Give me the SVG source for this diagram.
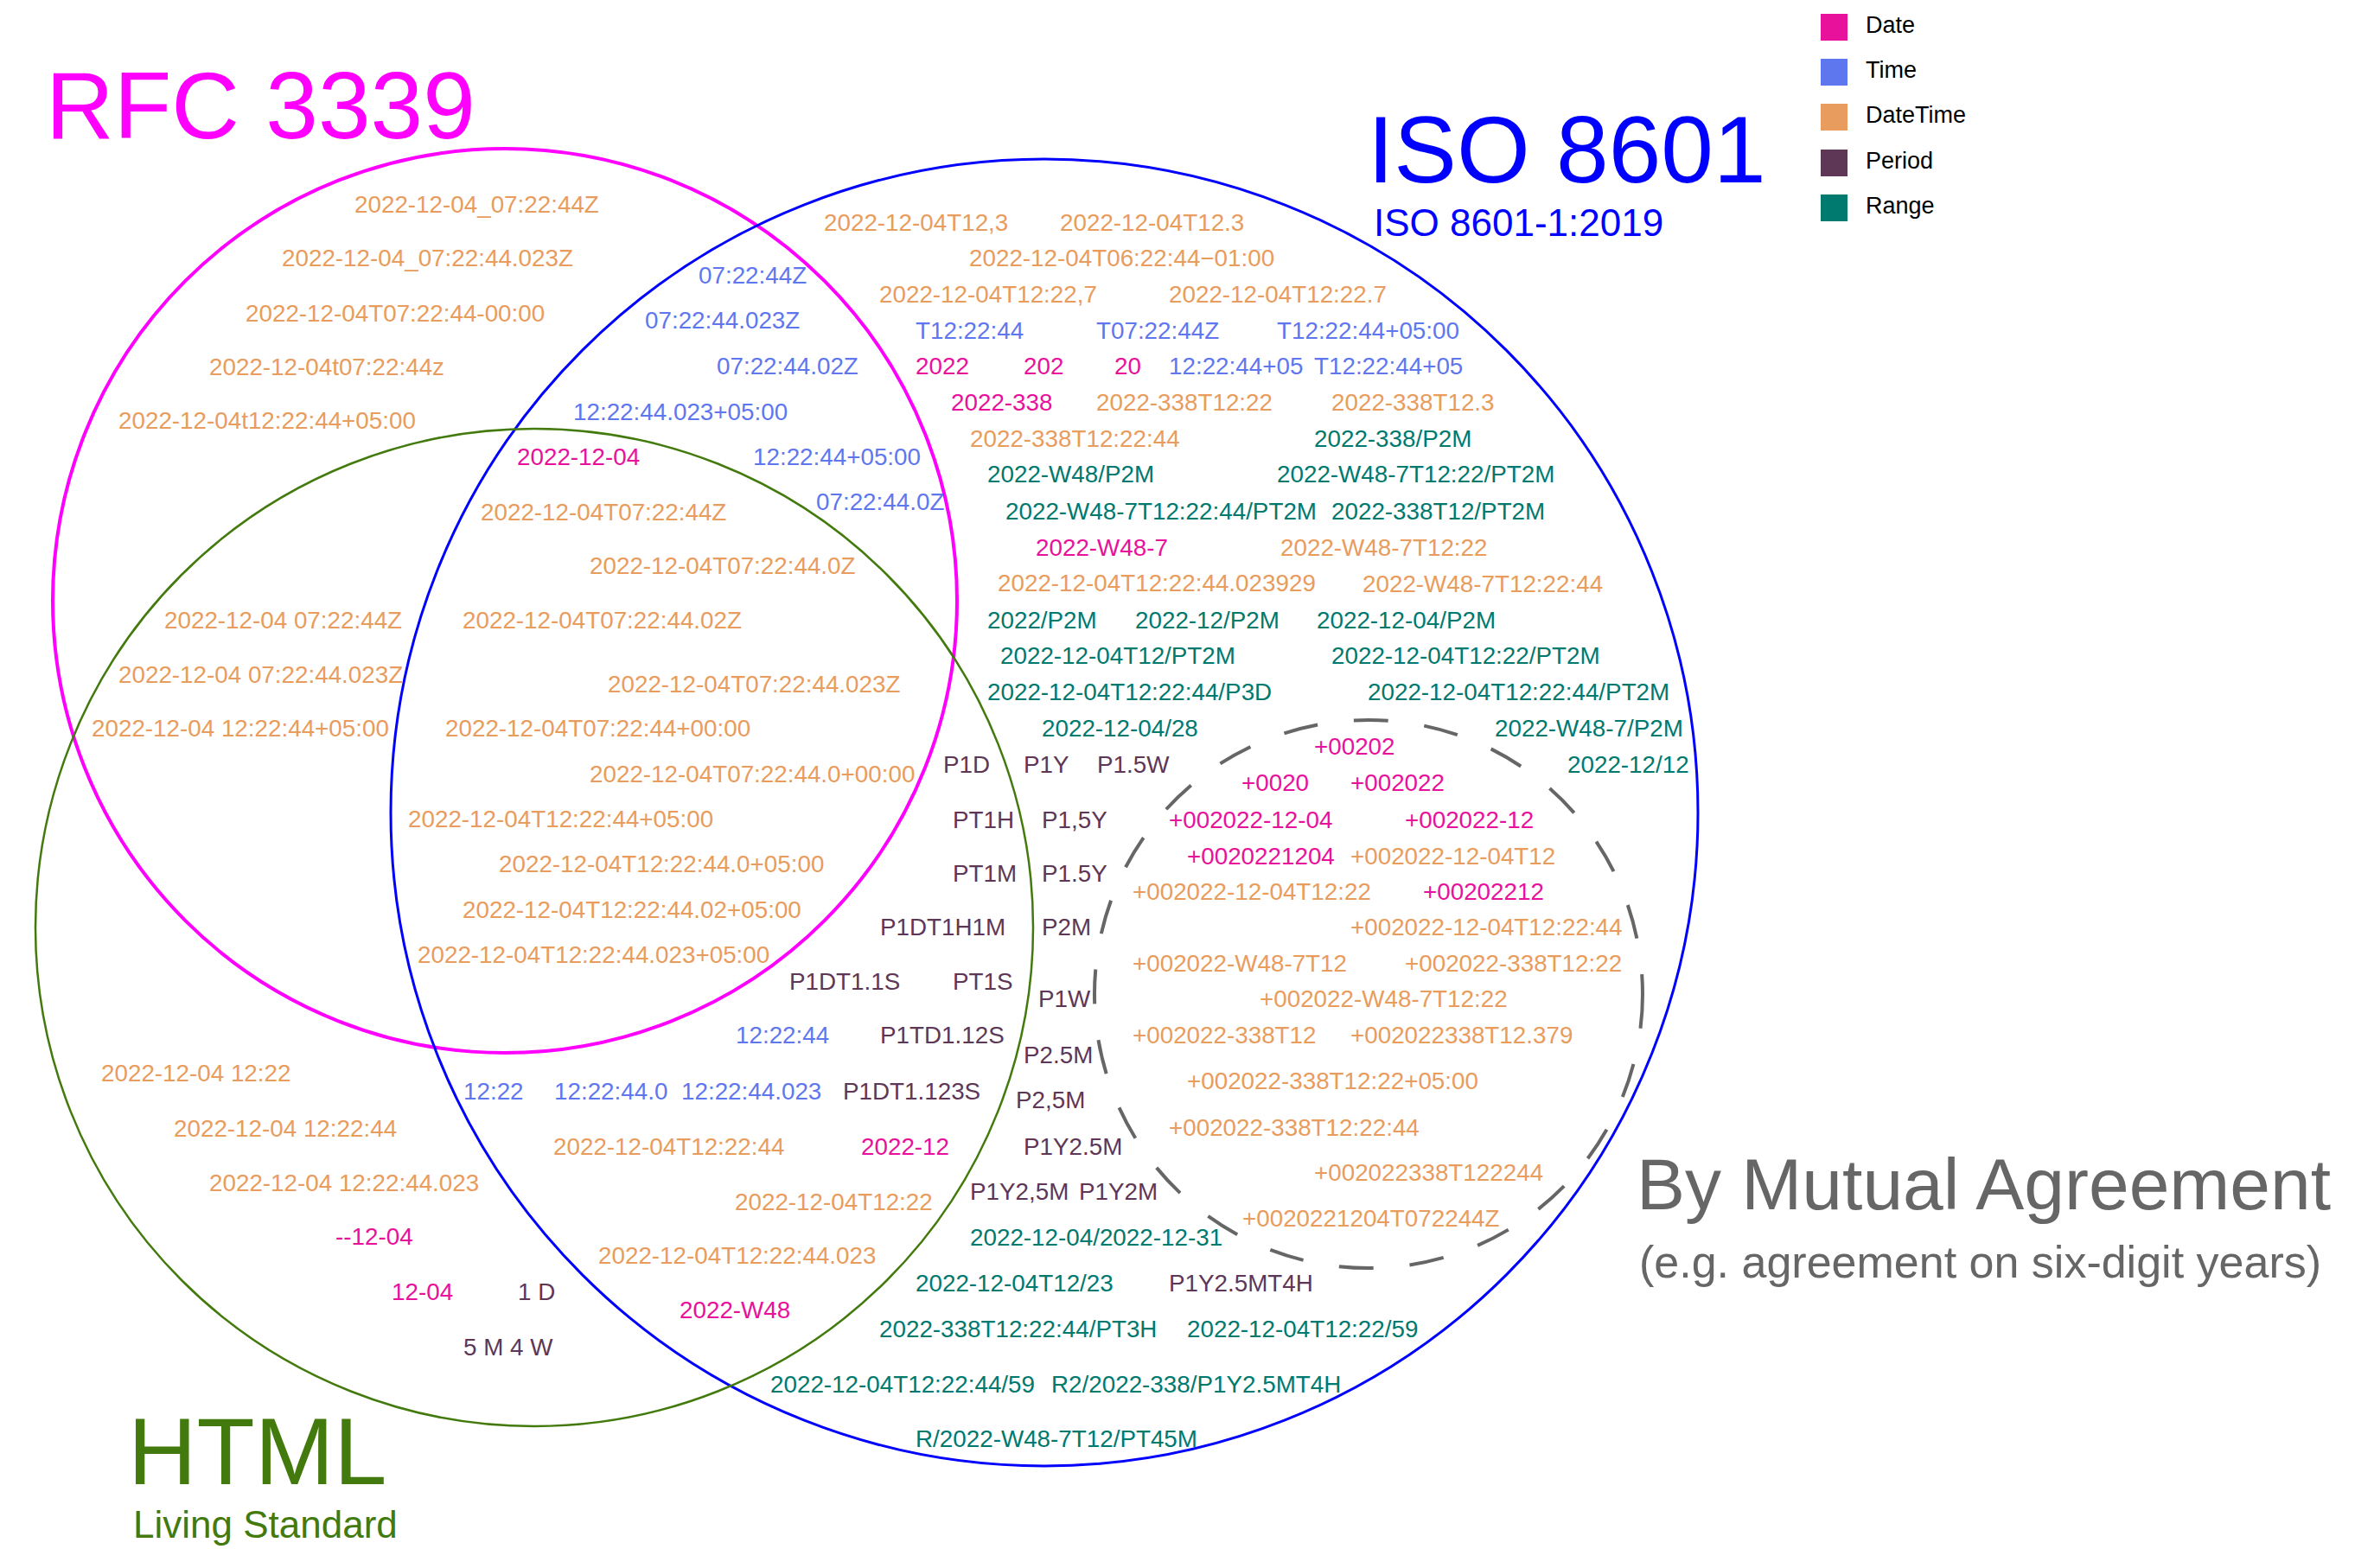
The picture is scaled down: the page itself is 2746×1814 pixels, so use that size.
<svg xmlns="http://www.w3.org/2000/svg" width="2746" height="1814" viewBox="0 0 2746 1814" font-family="'Liberation Sans', Arial, sans-serif">
<style>
text{font-family:'Liberation Sans',Arial,sans-serif}
.lb{font-size:27.8px}
.d{fill:#e7119c}.t{fill:#5f77ee}.dt{fill:#e89c5d}.p{fill:#5e3756}.r{fill:#00796f}
.set{fill:none}
.lg{font-size:27px;fill:#000}
</style>
<rect width="2746" height="1814" fill="#fff"/>
<g id="rfc3339">
<circle class="set" cx="584" cy="695" r="523" stroke="#ff00ff" stroke-width="4"/>
<text x="53" y="160" font-size="109" fill="#ff00ff">RFC 3339</text>
</g>
<g id="iso8601">
<circle class="set" cx="1208" cy="940" r="756" stroke="#0000ff" stroke-width="3"/>
<text x="1582" y="211" font-size="109" fill="#0000ff">ISO 8601</text>
<text x="1589" y="273" font-size="44" fill="#0000ff">ISO 8601-1:2019</text>
</g>
<g id="html">
<circle class="set" cx="618" cy="1073" r="577" stroke="#437a0d" stroke-width="2.5"/>
<text x="148" y="1717" font-size="110" fill="#437a0d">HTML</text>
<text x="154" y="1779" font-size="44" fill="#437a0d">Living Standard</text>
</g>
<g id="mutual-agreement">
<circle class="set" cx="1583" cy="1150" r="317" stroke="#666" stroke-width="4" stroke-dasharray="40 42"/>
<text x="1893" y="1399" font-size="84" fill="#666">By Mutual Agreement</text>
<text x="1896" y="1478" font-size="52" fill="#666">(e.g. agreement on six-digit years)</text>
</g>
<g id="legend">
<rect x="2106" y="16" width="31" height="31" fill="#e7119c"/><text class="lg" x="2158" y="38">Date</text>
<rect x="2106" y="68" width="31" height="31" fill="#5f77ee"/><text class="lg" x="2158" y="90">Time</text>
<rect x="2106" y="120" width="31" height="31" fill="#e89c5d"/><text class="lg" x="2158" y="142">DateTime</text>
<rect x="2106" y="173" width="31" height="31" fill="#5e3756"/><text class="lg" x="2158" y="195">Period</text>
<rect x="2106" y="225" width="31" height="31" fill="#00796f"/><text class="lg" x="2158" y="247">Range</text>
</g>
<g id="labels-datetime">
<text class="lb dt" x="410" y="246">2022-12-04_07:22:44Z</text>
<text class="lb dt" x="326" y="308">2022-12-04_07:22:44.023Z</text>
<text class="lb dt" x="284" y="372">2022-12-04T07:22:44-00:00</text>
<text class="lb dt" x="242" y="434">2022-12-04t07:22:44z</text>
<text class="lb dt" x="137" y="496">2022-12-04t12:22:44+05:00</text>
<text class="lb dt" x="953" y="267">2022-12-04T12,3</text>
<text class="lb dt" x="1226" y="267">2022-12-04T12.3</text>
<text class="lb dt" x="1121" y="308">2022-12-04T06:22:44−01:00</text>
<text class="lb dt" x="1017" y="350">2022-12-04T12:22,7</text>
<text class="lb dt" x="1352" y="350">2022-12-04T12:22.7</text>
<text class="lb dt" x="1268" y="475">2022-338T12:22</text>
<text class="lb dt" x="1540" y="475">2022-338T12.3</text>
<text class="lb dt" x="1122" y="517">2022-338T12:22:44</text>
<text class="lb dt" x="556" y="602">2022-12-04T07:22:44Z</text>
<text class="lb dt" x="1481" y="643">2022-W48-7T12:22</text>
<text class="lb dt" x="682" y="664">2022-12-04T07:22:44.0Z</text>
<text class="lb dt" x="1154" y="684">2022-12-04T12:22:44.023929</text>
<text class="lb dt" x="1576" y="685">2022-W48-7T12:22:44</text>
<text class="lb dt" x="190" y="727">2022-12-04 07:22:44Z</text>
<text class="lb dt" x="535" y="727">2022-12-04T07:22:44.02Z</text>
<text class="lb dt" x="137" y="790">2022-12-04 07:22:44.023Z</text>
<text class="lb dt" x="703" y="801">2022-12-04T07:22:44.023Z</text>
<text class="lb dt" x="106" y="852">2022-12-04 12:22:44+05:00</text>
<text class="lb dt" x="515" y="852">2022-12-04T07:22:44+00:00</text>
<text class="lb dt" x="682" y="905">2022-12-04T07:22:44.0+00:00</text>
<text class="lb dt" x="472" y="957">2022-12-04T12:22:44+05:00</text>
<text class="lb dt" x="577" y="1009">2022-12-04T12:22:44.0+05:00</text>
<text class="lb dt" x="535" y="1062">2022-12-04T12:22:44.02+05:00</text>
<text class="lb dt" x="483" y="1114">2022-12-04T12:22:44.023+05:00</text>
<text class="lb dt" x="1562" y="1000">+002022-12-04T12</text>
<text class="lb dt" x="1310" y="1041">+002022-12-04T12:22</text>
<text class="lb dt" x="1562" y="1082">+002022-12-04T12:22:44</text>
<text class="lb dt" x="1310" y="1124">+002022-W48-7T12</text>
<text class="lb dt" x="1625" y="1124">+002022-338T12:22</text>
<text class="lb dt" x="1457" y="1165">+002022-W48-7T12:22</text>
<text class="lb dt" x="1310" y="1207">+002022-338T12</text>
<text class="lb dt" x="1562" y="1207">+002022338T12.379</text>
<text class="lb dt" x="1373" y="1260">+002022-338T12:22+05:00</text>
<text class="lb dt" x="1352" y="1314">+002022-338T12:22:44</text>
<text class="lb dt" x="1520" y="1366">+002022338T122244</text>
<text class="lb dt" x="1437" y="1419">+0020221204T072244Z</text>
<text class="lb dt" x="117" y="1251">2022-12-04 12:22</text>
<text class="lb dt" x="201" y="1315">2022-12-04 12:22:44</text>
<text class="lb dt" x="242" y="1378">2022-12-04 12:22:44.023</text>
<text class="lb dt" x="640" y="1336">2022-12-04T12:22:44</text>
<text class="lb dt" x="850" y="1400">2022-12-04T12:22</text>
<text class="lb dt" x="692" y="1462">2022-12-04T12:22:44.023</text>
</g>
<g id="labels-time">
<text class="lb t" x="808" y="328">07:22:44Z</text>
<text class="lb t" x="746" y="380">07:22:44.023Z</text>
<text class="lb t" x="829" y="433">07:22:44.02Z</text>
<text class="lb t" x="1059" y="392">T12:22:44</text>
<text class="lb t" x="1268" y="392">T07:22:44Z</text>
<text class="lb t" x="1477" y="392">T12:22:44+05:00</text>
<text class="lb t" x="1352" y="433">12:22:44+05</text>
<text class="lb t" x="1520" y="433">T12:22:44+05</text>
<text class="lb t" x="663" y="486">12:22:44.023+05:00</text>
<text class="lb t" x="871" y="538">12:22:44+05:00</text>
<text class="lb t" x="944" y="590">07:22:44.0Z</text>
<text class="lb t" x="851" y="1207">12:22:44</text>
<text class="lb t" x="536" y="1272">12:22</text>
<text class="lb t" x="641" y="1272">12:22:44.0</text>
<text class="lb t" x="788" y="1272">12:22:44.023</text>
</g>
<g id="labels-date">
<text class="lb d" x="1059" y="433">2022</text>
<text class="lb d" x="1184" y="433">202</text>
<text class="lb d" x="1289" y="433">20</text>
<text class="lb d" x="1100" y="475">2022-338</text>
<text class="lb d" x="598" y="538">2022-12-04</text>
<text class="lb d" x="1198" y="643">2022-W48-7</text>
<text class="lb d" x="1520" y="873">+00202</text>
<text class="lb d" x="1436" y="915">+0020</text>
<text class="lb d" x="1562" y="915">+002022</text>
<text class="lb d" x="1352" y="958">+002022-12-04</text>
<text class="lb d" x="1625" y="958">+002022-12</text>
<text class="lb d" x="1373" y="1000">+0020221204</text>
<text class="lb d" x="1646" y="1041">+00202212</text>
<text class="lb d" x="996" y="1336">2022-12</text>
<text class="lb d" x="388" y="1440">--12-04</text>
<text class="lb d" x="453" y="1504">12-04</text>
<text class="lb d" x="786" y="1525">2022-W48</text>
</g>
<g id="labels-period">
<text class="lb p" x="1091" y="894">P1D</text>
<text class="lb p" x="1184" y="894">P1Y</text>
<text class="lb p" x="1269" y="894">P1.5W</text>
<text class="lb p" x="1102" y="958">PT1H</text>
<text class="lb p" x="1205" y="958">P1,5Y</text>
<text class="lb p" x="1102" y="1020">PT1M</text>
<text class="lb p" x="1205" y="1020">P1.5Y</text>
<text class="lb p" x="1018" y="1082">P1DT1H1M</text>
<text class="lb p" x="1205" y="1082">P2M</text>
<text class="lb p" x="913" y="1145">P1DT1.1S</text>
<text class="lb p" x="1102" y="1145">PT1S</text>
<text class="lb p" x="1201" y="1165">P1W</text>
<text class="lb p" x="1018" y="1207">P1TD1.12S</text>
<text class="lb p" x="1184" y="1230">P2.5M</text>
<text class="lb p" x="975" y="1272">P1DT1.123S</text>
<text class="lb p" x="1175" y="1282">P2,5M</text>
<text class="lb p" x="1184" y="1336">P1Y2.5M</text>
<text class="lb p" x="1122" y="1388">P1Y2,5M</text>
<text class="lb p" x="1248" y="1388">P1Y2M</text>
<text class="lb p" x="1352" y="1494">P1Y2.5MT4H</text>
<text class="lb p" x="599" y="1504">1 D</text>
<text class="lb p" x="536" y="1568">5 M 4 W</text>
</g>
<g id="labels-range">
<text class="lb r" x="1520" y="517">2022-338/P2M</text>
<text class="lb r" x="1142" y="558">2022-W48/P2M</text>
<text class="lb r" x="1477" y="558">2022-W48-7T12:22/PT2M</text>
<text class="lb r" x="1163" y="601">2022-W48-7T12:22:44/PT2M</text>
<text class="lb r" x="1540" y="601">2022-338T12/PT2M</text>
<text class="lb r" x="1142" y="727">2022/P2M</text>
<text class="lb r" x="1313" y="727">2022-12/P2M</text>
<text class="lb r" x="1523" y="727">2022-12-04/P2M</text>
<text class="lb r" x="1157" y="768">2022-12-04T12/PT2M</text>
<text class="lb r" x="1540" y="768">2022-12-04T12:22/PT2M</text>
<text class="lb r" x="1142" y="810">2022-12-04T12:22:44/P3D</text>
<text class="lb r" x="1582" y="810">2022-12-04T12:22:44/PT2M</text>
<text class="lb r" x="1205" y="852">2022-12-04/28</text>
<text class="lb r" x="1729" y="852">2022-W48-7/P2M</text>
<text class="lb r" x="1813" y="894">2022-12/12</text>
<text class="lb r" x="1122" y="1441">2022-12-04/2022-12-31</text>
<text class="lb r" x="1059" y="1494">2022-12-04T12/23</text>
<text class="lb r" x="1017" y="1547">2022-338T12:22:44/PT3H</text>
<text class="lb r" x="1373" y="1547">2022-12-04T12:22/59</text>
<text class="lb r" x="891" y="1611">2022-12-04T12:22:44/59</text>
<text class="lb r" x="1216" y="1611">R2/2022-338/P1Y2.5MT4H</text>
<text class="lb r" x="1059" y="1674">R/2022-W48-7T12/PT45M</text>
</g>
<g id="connectors"></g>
</svg>
